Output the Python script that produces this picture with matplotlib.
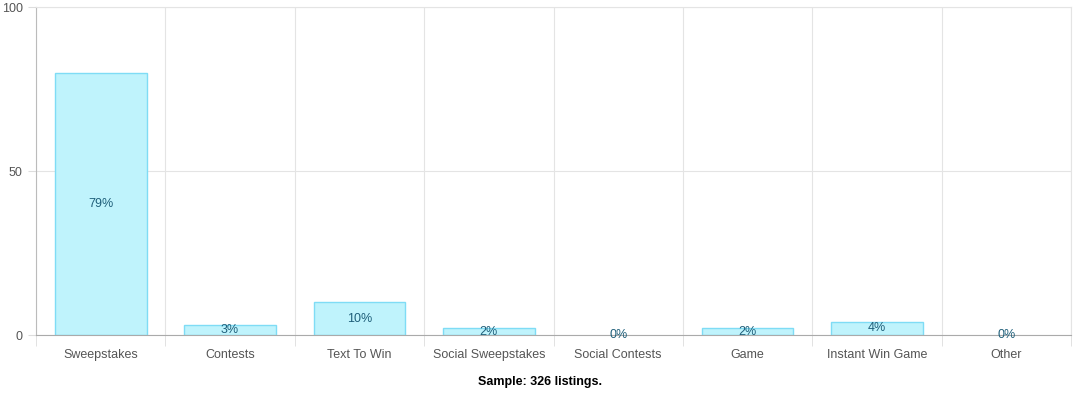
import numpy as np
import matplotlib.pyplot as plt

categories = ["Sweepstakes", "Contests", "Text To Win", "Social Sweepstakes",
              "Social Contests", "Game", "Instant Win Game", "Other"]
heights = [80, 3, 10, 2, 0, 2, 4, 0]
labels = ["79%", "3%", "10%", "2%", "0%", "2%", "4%", "0%"]

plt.rcParams["font.family"] = ["Liberation Sans", "DejaVu Sans"]
fig = plt.figure(figsize=(10.74, 4.0), dpi=100)
ax = fig.add_axes([36 / 1074, 1 - 335 / 400, 1035 / 1074, 328 / 400])

x = np.arange(len(categories))
edge = ["#7fdcf5" if h > 0 else "none" for h in heights]
ax.bar(x, heights, width=0.71, color="#bff3fc", edgecolor=edge, linewidth=1)
for xi, h, lab in zip(x, heights, labels):
    ax.text(xi, h / 2, lab, ha="center", va="center", fontsize=9, color="#1f5f7a")

ax.set_xlim(-0.5, len(categories) - 0.5)
ax.set_ylim(0, 100)
ax.set_yticks([0, 50, 100])
ax.set_xticks(x)
ax.set_xticklabels(categories)
ax.set_xticks(np.arange(-0.5, len(categories)), minor=True)
ax.tick_params(axis="x", which="major", length=0, pad=10, labelsize=9, labelcolor="#555555")
ax.tick_params(axis="x", which="minor", length=8, color="#dddddd")
ax.tick_params(axis="y", length=6, color="#dddddd", labelsize=9, labelcolor="#555555")
ax.grid(axis="y", color="#e4e4e4", linewidth=0.8)
ax.grid(axis="x", which="minor", color="#e4e4e4", linewidth=0.8)
ax.set_axisbelow(True)
for side in ["top", "right"]:
    ax.spines[side].set_color("#e4e4e4")
ax.spines["left"].set_color("#bbbbbb")
ax.spines["bottom"].set_color("#aaaaaa")

fig.text(540 / 1074, 1 - 382 / 400, "Sample: 326 listings.", ha="center", va="center",
         fontsize=9, fontweight="bold")
fig.savefig("out.png", dpi=100)
